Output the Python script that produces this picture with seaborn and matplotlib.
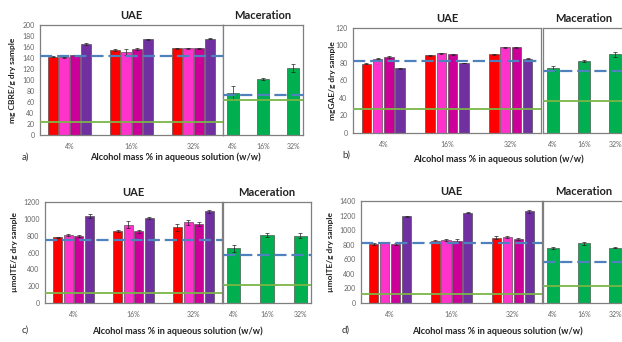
import numpy as np
import pandas as pd
import matplotlib
matplotlib.use("Agg")
import matplotlib.pyplot as plt
import seaborn as sns

# ================= DATA =================
conc = ["4%", "16%", "32%"]
solvents = ["S1", "S2", "S3", "S4"]

# UAE values: one list per solvent, ordered by concentration
uae_a = [[142, 154, 158], [141, 151, 158], [145, 157, 158], [165, 174, 175]]
uae_a_err = [[1, 2, 1], [1, 5, 1], [1, 2, 1], [2, 1, 1]]
mac_a = [77, 102, 122]
mac_a_err = [13, 2, 7]

uae_b = [[79, 89, 90], [85, 91, 98], [87, 90, 98], [74, 80, 85]]
uae_b_err = [[0.5, 0.5, 0.5], [0.8, 0.5, 0.8], [0.8, 0.8, 0.5], [0.5, 0.5, 0.8]]
mac_b = [74, 82, 90]
mac_b_err = [3, 1, 3]

uae_c = [[780, 855, 900], [810, 930, 960], [795, 850, 940], [1030, 1010, 1090]]
uae_c_err = [[10, 10, 40], [15, 40, 30], [10, 20, 25], [25, 8, 15]]
mac_c = [650, 805, 800]
mac_c_err = [40, 25, 30]

uae_d = [[810, 850, 895], [830, 860, 905], [810, 855, 880], [1190, 1240, 1260]]
uae_d_err = [[10, 15, 20], [10, 15, 10], [10, 20, 10], [10, 10, 20]]
mac_d = [760, 820, 760]
mac_d_err = [15, 20, 10]

# reference lines: UAE (blue dashed, green solid), maceration (blue dashed, green solid)
ref_a = [(143, 23), (72, 64)]
ref_b = [(82, 27), (71, 37)]
ref_c = [(745, 120), (575, 215)]
ref_d = [(830, 130), (565, 230)]

ylabels = ["mg CBRE/g dry sample", "mgGAE/g dry sample",
           "µmolTE/g dry sample", "µmolTE/g dry sample"]
ymax = [200, 120, 1200, 1400]
ystep = [20, 20, 200, 200]
letters = ["a)", "b)", "c)", "d)"]

uae_colors = ["#ff0000", "#ff33cc", "#cc0099", "#7030a0"]
mac_color = "#00b050"
blue = "#4f81bd"
green = "#7ab648"
grey = "#7f7f7f"

sns.set_theme(style="white")
plt.rcParams["font.family"] = ["Lato", "DejaVu Sans"]

W, H = 622, 342
fig = plt.figure(figsize=(W / 100, H / 100), dpi=100)


def px_axes(x1, y1, x2, y2):
    return fig.add_axes([x1 / W, 1 - y2 / H, (x2 - x1) / W, (y2 - y1) / H])


def style_axes(ax, top):
    ax.set_ylim(0, top)
    ax.set_xlabel("")
    ax.set_ylabel("")
    for s in ax.spines.values():
        s.set_color(grey)
        s.set_linewidth(0.9)
    ax.tick_params(axis="both", length=0, labelsize=5, colors="#666666")
    ax.tick_params(axis="x", pad=6)
    ax.tick_params(axis="y", pad=4)


# pixel boxes: (uae box, maceration box, ylabel x, xlabel (x, y), letter (x, y))
layout = [
    ((40, 25, 223, 135), (223, 25, 303, 135), 13, (175, 157), (25, 157)),
    ((353, 28, 541, 133), (543, 28, 625, 133), 332, (498, 159), (346, 155)),
    ((45, 202, 222, 303), (223, 202, 311, 303), 15, (177, 331), (25, 330)),
    ((361, 201, 542, 303), (543, 201, 625, 303), 331, (497, 331), (346, 330)),
]

panels = [
    (uae_a, uae_a_err, mac_a, mac_a_err, ref_a),
    (uae_b, uae_b_err, mac_b, mac_b_err, ref_b),
    (uae_c, uae_c_err, mac_c, mac_c_err, ref_c),
    (uae_d, uae_d_err, mac_d, mac_d_err, ref_d),
]

for i, (uae, uae_err, mac, mac_err, ref) in enumerate(panels):
    box_u, box_m, ylx, xl, lt = layout[i]

    # ---------- UAE ----------
    ax = px_axes(*box_u)
    df = pd.DataFrame({
        "conc": np.tile(conc, len(solvents)),
        "solvent": np.repeat(solvents, len(conc)),
        "value": np.ravel(uae),
    })
    sns.barplot(data=df, x="conc", y="value", hue="solvent", order=conc,
                hue_order=solvents, palette=uae_colors, saturation=1,
                width=0.71, gap=0.15, errorbar=None, edgecolor="#3a3a3a",
                linewidth=0.4, legend=False, ax=ax)
    for cont, err in zip(ax.containers, uae_err):
        xs = [p.get_x() + p.get_width() / 2 for p in cont.patches]
        hs = [p.get_height() for p in cont.patches]
        ax.errorbar(xs, hs, yerr=err, fmt="none", ecolor="#222222",
                    elinewidth=0.5, capsize=1.2, capthick=0.5)
    ax.axhline(ref[0][0], color=blue, lw=1.6, linestyle=(0, (5.5, 2.2)), zorder=5)
    ax.axhline(ref[0][1], color=green, lw=1.3, zorder=5)
    style_axes(ax, ymax[i])
    ax.set_yticks(np.arange(0, ymax[i] + 1, ystep[i]))
    ax.set_title("UAE", fontsize=8, fontweight="bold", pad=4, color="#222222")

    # ---------- Maceration ----------
    axm = px_axes(*box_m)
    dm = pd.DataFrame({"conc": conc, "value": mac})
    sns.barplot(data=dm, x="conc", y="value", order=conc, color=mac_color,
                saturation=1, width=0.4, errorbar=None, edgecolor="#3a3a3a",
                linewidth=0.4, ax=axm)
    xs = [p.get_x() + p.get_width() / 2 for p in axm.patches]
    axm.errorbar(xs, mac, yerr=mac_err, fmt="none", ecolor="#222222",
                 elinewidth=0.5, capsize=1.2, capthick=0.5)
    axm.axhline(ref[1][0], color=blue, lw=1.6, linestyle=(0, (5.5, 2.2)), zorder=5)
    axm.axhline(ref[1][1], color=green, lw=1.3, zorder=5)
    style_axes(axm, ymax[i])
    axm.set_yticks([])
    axm.set_title("Maceration", fontsize=8, fontweight="bold", pad=4,
                  color="#222222")

    # ---------- labels ----------
    yc = 1 - (box_u[1] + box_u[3]) / 2 / H
    fig.text(ylx / W, yc, ylabels[i], rotation=90, ha="center", va="center",
             fontsize=6, fontweight="bold", color="#222222")
    fig.text(xl[0] / W, 1 - xl[1] / H,
             "Alcohol mass % in aqueous solution (w/w)", ha="center",
             va="center", fontsize=6.6, fontweight="bold", color="#222222")
    fig.text(lt[0] / W, 1 - lt[1] / H, letters[i], ha="center", va="center",
             fontsize=7, color="#333333")

fig.savefig("out.png", dpi=100)
